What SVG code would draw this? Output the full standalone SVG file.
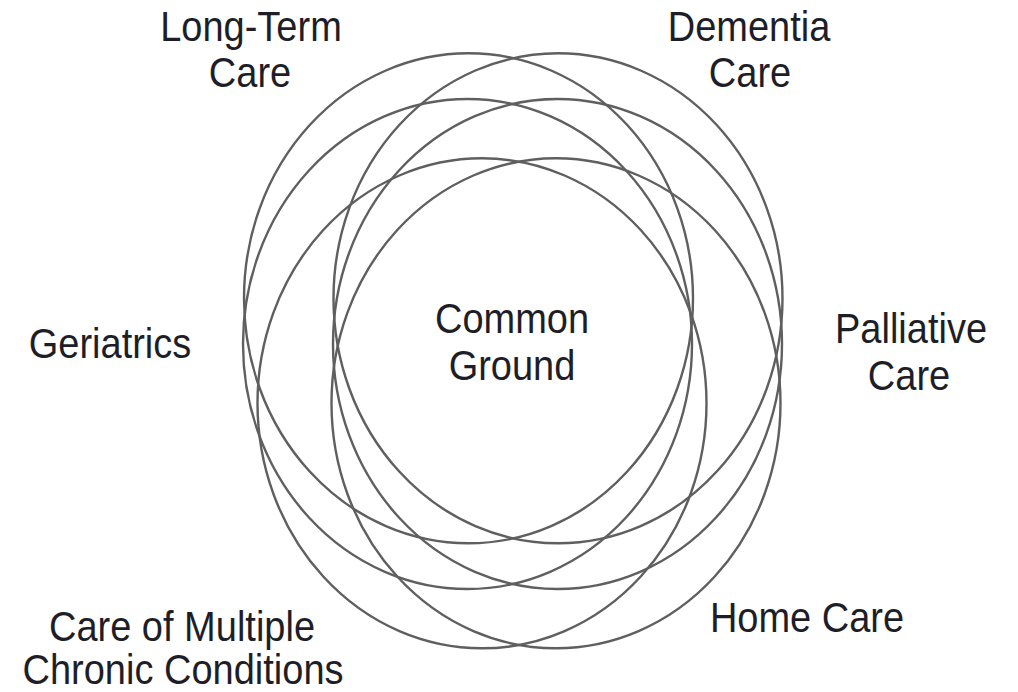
<svg xmlns="http://www.w3.org/2000/svg" width="1018" height="692" viewBox="0 0 1018 692">
<style>
.ring{fill:none;stroke:#5f5f5f;stroke-width:2.4}
.lbl{font-family:"Liberation Sans",Arial,sans-serif;font-size:38px;fill:#1e1e28;text-anchor:middle}
</style>
<rect width="1018" height="692" fill="#fff"/>
<g id="rings">
<g id="ring-long-term"><ellipse class="ring" cx="468.5" cy="298.3" rx="224.5" ry="245"/></g>
<g id="ring-dementia"><ellipse class="ring" cx="558" cy="298.3" rx="224.5" ry="245"/></g>
<g id="ring-geriatrics"><ellipse class="ring" cx="467.5" cy="344" rx="224.5" ry="245"/></g>
<g id="ring-palliative"><ellipse class="ring" cx="557.5" cy="344" rx="224.5" ry="245"/></g>
<g id="ring-mcc"><ellipse class="ring" cx="482" cy="403.3" rx="224.5" ry="245"/></g>
<g id="ring-home"><ellipse class="ring" cx="556" cy="403.3" rx="224.5" ry="245"/></g>
</g>
<g id="label-long-term"><text class="lbl" transform="translate(251 41) scale(1 1.1)">Long-Term</text><text class="lbl" transform="translate(250 87) scale(1 1.1)">Care</text></g>
<g id="label-dementia"><text class="lbl" transform="translate(749 41) scale(1 1.1)">Dementia</text><text class="lbl" transform="translate(750 87) scale(1 1.1)">Care</text></g>
<g id="label-common"><text class="lbl" transform="translate(512 333) scale(1 1.1)">Common</text><text class="lbl" transform="translate(512 380) scale(1 1.1)">Ground</text></g>
<g id="label-geriatrics"><text class="lbl" transform="translate(110 358) scale(1 1.1)">Geriatrics</text></g>
<g id="label-palliative"><text class="lbl" transform="translate(911 343) scale(1 1.1)">Palliative</text><text class="lbl" transform="translate(909 390) scale(1 1.1)">Care</text></g>
<g id="label-home"><text class="lbl" transform="translate(807 632) scale(1 1.1)">Home Care</text></g>
<g id="label-mcc"><text class="lbl" transform="translate(182 641) scale(1 1.1)">Care of Multiple</text><text class="lbl" transform="translate(183 684) scale(1 1.1)">Chronic Conditions</text></g>
</svg>
